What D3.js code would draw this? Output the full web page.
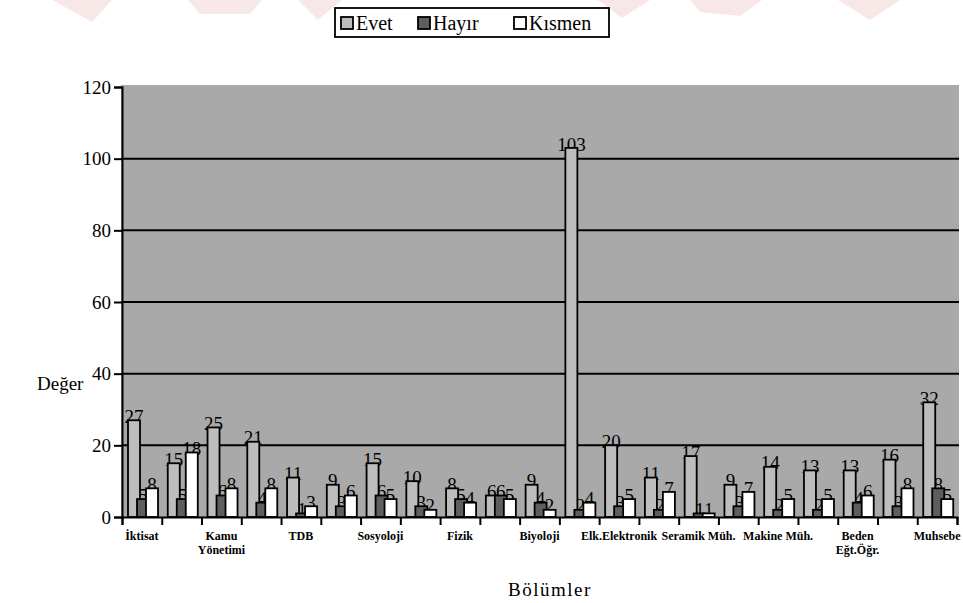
<!DOCTYPE html>
<html>
<head>
<meta charset="utf-8">
<script src="https://cdn.jsdelivr.net/npm/d3@7/dist/d3.min.js"></script>
<style>
  body { margin: 0; background: #ffffff; }
  svg { display: block; }
  text { font-family: "Liberation Serif", "DejaVu Serif", serif; fill: #000; }
</style>
</head>
<body>
<svg id="chart" width="963" height="603"></svg>
<script>
// Departments (only every other one gets a printed label on the axis)
const categories = [
  "İktisat", "İşletme", "Kamu Yönetimi", "Maliye", "TDB", "Tarih", "Sosyoloji",
  "Psikoloji", "Fizik", "Kimya", "Biyoloji", "Matematik", "Elk.Elektronik",
  "Bilgisayar Müh.", "Seramik Müh.", "İnşaat Müh.", "Makine Müh.", "Tekstil Müh.",
  "Beden Eğt.Öğr.", "Müzik Eğt.", "Muhsebe"
];
const axisLabels = [
  ["İktisat"], [], ["Kamu", "Yönetimi"], [], ["TDB"], [], ["Sosyoloji"],
  [], ["Fizik"], [], ["Biyoloji"], [], ["Elk.Elektronik"],
  [], ["Seramik Müh."], [], ["Makine Müh."], [],
  ["Beden", "Eğt.Öğr."], [], ["Muhsebe"]
];
const seriesNames = ["Evet", "Hayır", "Kısmen"];
const evet   = [27, 15, 25, 21, 11, 9, 15, 10, 8, 6, 9, 103, 20, 11, 17, 9, 14, 13, 13, 16, 32];
const hayir  = [5, 5, 6, 4, 1, 3, 6, 3, 5, 6, 4, 2, 3, 2, 1, 3, 2, 2, 4, 3, 8];
const kismen = [8, 18, 8, 8, 3, 6, 5, 2, 4, 5, 2, 4, 5, 7, 1, 7, 5, 5, 6, 8, 5];
const yTicks = [0, 20, 40, 60, 80, 100, 120];

const seriesValues = [evet, hayir, kismen];
const fills = { "Evet": "#bdbdbd", "Hayır": "#5e5e5e", "Kısmen": "#ffffff" };

const svg = d3.select("#chart");

// Faint watermark strip along the top edge
const wm = svg.append("g").attr("fill", "#f6dede").attr("opacity", 0.7);
[
  [[52, 0], [112, 0], [92, 22]],
  [[188, 0], [262, 0], [250, 14], [200, 14]],
  [[298, 0], [342, 0], [318, 20]],
  [[598, 0], [650, 0], [622, 18]],
  [[690, 0], [762, 0], [740, 16], [700, 12]],
  [[838, 0], [900, 0], [870, 20]]
].forEach(p => wm.append("polygon").attr("points", p.map(q => q.join(",")).join(" ")));

const plot = { left: 122, right: 957, top: 87, bottom: 517 };

const x0 = d3.scaleBand().domain(categories).range([plot.left, plot.right]).padding(0);
const x1 = d3.scaleBand().domain(seriesNames).range([6, 33]).padding(0);
const barW = x1.bandwidth() * 4 / 3;
const xEdge = d3.scaleLinear().domain([0, categories.length]).range([plot.left, plot.right]);
const y = d3.scaleLinear().domain([0, 120]).range([plot.bottom, plot.top]);

// Plot background
svg.append("rect")
  .attr("x", plot.left - 1).attr("y", plot.top - 2)
  .attr("width", plot.right - plot.left + 3).attr("height", plot.bottom - plot.top + 2)
  .attr("fill", "#a9a9a9");

// Horizontal gridlines
svg.append("g").selectAll("line")
  .data(yTicks.filter(t => t > 0 && t < 120))
  .join("line")
  .attr("x1", plot.left).attr("x2", plot.right + 2)
  .attr("y1", d => y(d)).attr("y2", d => y(d))
  .attr("stroke", "#000").attr("stroke-width", 2);

// Flatten values for marks and labels
const rows = [];
categories.forEach((c, i) => {
  seriesNames.forEach((s, k) => rows.push({ cat: c, series: s, value: seriesValues[k][i] }));
});

// Value labels sit behind the bars
svg.append("g").selectAll("text")
  .data(rows.filter(d => d.value > 0))
  .join("text")
  .attr("x", d => x0(d.cat) + x1(d.series) + barW / 2)
  .attr("y", d => y(d.value) - 4)
  .attr("dy", "0.35em")
  .attr("text-anchor", "middle")
  .style("font-size", "19px")
  .text(d => d.value);

// Bars
svg.append("g").selectAll("rect")
  .data(rows)
  .join("rect")
  .attr("x", d => x0(d.cat) + x1(d.series))
  .attr("y", d => y(d.value))
  .attr("width", barW)
  .attr("height", d => y(0) - y(d.value))
  .attr("fill", d => fills[d.series])
  .attr("stroke", "#000")
  .attr("stroke-width", 1.8);

// Y axis
const yAxis = svg.append("g")
  .attr("transform", `translate(${plot.left},0)`)
  .call(d3.axisLeft(y).tickValues(yTicks).tickSize(8).tickPadding(3).tickFormat(d3.format("d")));
yAxis.select(".domain").attr("stroke-width", 2);
yAxis.selectAll(".tick line").attr("stroke-width", 2);
yAxis.selectAll(".tick text")
  .style("font-family", "'Liberation Serif', serif").style("font-size", "19px");

// X axis: tick marks on category boundaries
const xAxis = svg.append("g")
  .attr("transform", `translate(0,${plot.bottom})`)
  .call(d3.axisBottom(xEdge).tickValues(d3.range(categories.length + 1)).tickSize(8).tickFormat(""));
xAxis.select(".domain").attr("stroke-width", 2);
xAxis.selectAll(".tick line").attr("stroke-width", 2);

// Category names under the groups
const catText = svg.append("g").selectAll("text")
  .data(categories.map((c, i) => ({ c, lines: axisLabels[i] })))
  .join("text")
  .attr("text-anchor", "middle")
  .style("font-size", "12px")
  .style("font-weight", "bold");
catText.each(function (d) {
  const t = d3.select(this);
  d.lines.forEach((ln, j) => {
    t.append("tspan")
      .attr("x", x0(d.c) + x0.bandwidth() / 2)
      .attr("y", 540 + j * 14)
      .text(ln);
  });
});

// Axis titles
svg.append("text").attr("x", 37).attr("y", 390)
  .style("font-size", "19px").text("Değer");
svg.append("text").attr("x", 550).attr("y", 596).attr("text-anchor", "middle")
  .style("font-size", "19px").style("letter-spacing", "1.5px").text("Bölümler");

// Legend
const legend = svg.append("g");
legend.append("rect")
  .attr("x", 335).attr("y", 8).attr("width", 274).attr("height", 29)
  .attr("fill", "#fff").attr("stroke", "#000").attr("stroke-width", 1.8);
const legendX = [341, 418, 514];
seriesNames.forEach((s, k) => {
  legend.append("rect")
    .attr("x", legendX[k]).attr("y", 17).attr("width", 12).attr("height", 12)
    .attr("fill", fills[s]).attr("stroke", "#000").attr("stroke-width", 1.8);
  legend.append("text")
    .attr("x", legendX[k] + 15).attr("y", 30)
    .style("font-size", "20px").text(s);
});
</script>
</body>
</html>
